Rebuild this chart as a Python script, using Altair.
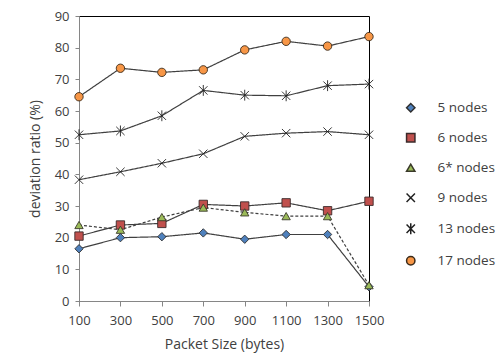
import altair as alt
import pandas as pd

sizes = [100, 300, 500, 700, 900, 1100, 1300, 1500]
series_names = ["5 nodes", "6 nodes", "6* nodes", "9 nodes", "13 nodes", "17 nodes"]
line_styles = ["solid", "solid", "dashed", "solid", "solid", "solid"]
s5 = [16.5, 20.0, 20.3, 21.5, 19.5, 21.0, 21.0, 4.5]
s6 = [20.5, 24.0, 24.5, 30.5, 30.0, 31.0, 28.5, 31.5]
s6s = [24.0, 22.5, 26.5, 29.5, 28.0, 26.8, 26.8, 5.0]
s9 = [38.3, 40.8, 43.5, 46.5, 52.0, 53.0, 53.5, 52.5]
s13 = [52.5, 53.7, 58.5, 66.5, 65.0, 64.8, 68.0, 68.5]
s17 = [64.5, 73.5, 72.2, 73.0, 79.3, 82.0, 80.5, 83.5]

rows = []
for name, style, vals in zip(series_names, line_styles, [s5, s6, s6s, s9, s13, s17]):
    for x, v in zip(sizes, vals):
        rows.append({"size": x, "value": v, "series": name, "style": style})
df = pd.DataFrame(rows)

x_path = "M-1,-1L1,1M-1,1L1,-1"
star_path = "M-1,-1L1,1M-1,1L1,-1M0,-1.3L0,1.3"
shapes = ["diamond", "square", "triangle-up", x_path, star_path, "circle"]
fills = ["#4F81BD", "#C0504D", "#9BBB59", "transparent", "transparent", "#F79646"]
strokes = ["#2f2f2f", "#3a2a2a", "#3a3a2a", "#202020", "#202020", "#3a2a1a"]

font = "Open Sans"
txt = "#404040"

xenc = alt.X("size:Q",
             scale=alt.Scale(domain=[100, 1500], nice=False, zero=False),
             axis=alt.Axis(values=sizes, title="Packet Size (bytes)", format="d",
                           grid=False, tickSize=5, labelPadding=8,
                           labelFlush=False, labelOverlap=False, labelBound=False,
                           domainColor="#868686", tickColor="#868686",
                           labelFont=font, labelFontSize=13, labelColor=txt,
                           titleFont=font, titleFontSize=14, titleFontWeight="normal",
                           titleColor=txt, titlePadding=10))
yenc = alt.Y("value:Q",
             scale=alt.Scale(domain=[0, 90], nice=False),
             axis=alt.Axis(values=list(range(0, 91, 10)), title="deviation ratio (%)",
                           grid=False, tickSize=4, labelPadding=6,
                           labelFlush=False, labelBound=False,
                           domainColor="#868686", tickColor="#868686",
                           labelFont=font, labelFontSize=13, labelColor=txt,
                           titleFont=font, titleFontSize=14, titleFontWeight="normal",
                           titleColor=txt, titlePadding=12))

lines = alt.Chart(df).mark_line(color="#404040", strokeWidth=1.2).encode(
    x=xenc, y=yenc,
    detail="series:N",
    strokeDash=alt.StrokeDash("style:N",
                              scale=alt.Scale(domain=["solid", "dashed"],
                                              range=[[1, 0], [3, 2]]),
                              legend=None),
)

leg = alt.Legend(title=None, orient="none", legendX=325, legendY=85,
                 labelFont=font, labelFontSize=13.5, labelColor=txt,
                 rowPadding=15, symbolSize=70, labelOffset=20)

points = alt.Chart(df).mark_point(filled=True, size=70, strokeWidth=0.9, opacity=1).encode(
    x=xenc, y=yenc,
    shape=alt.Shape("series:N", scale=alt.Scale(domain=series_names, range=shapes),
                    legend=leg),
    fill=alt.Fill("series:N", scale=alt.Scale(domain=series_names, range=fills),
                  legend=leg),
    stroke=alt.Stroke("series:N", scale=alt.Scale(domain=series_names, range=strokes),
                      legend=leg),
)

chart = alt.layer(lines, points).properties(
    width=290, height=285,
    autosize=alt.AutoSizeParams(type="none"),
    padding={"left": 71, "top": 8, "right": 127, "bottom": 55},
).configure(background="white").configure_view(stroke="#000000", strokeWidth=1)

chart.save("out.html", embed_options={"renderer": "svg", "actions": False})
